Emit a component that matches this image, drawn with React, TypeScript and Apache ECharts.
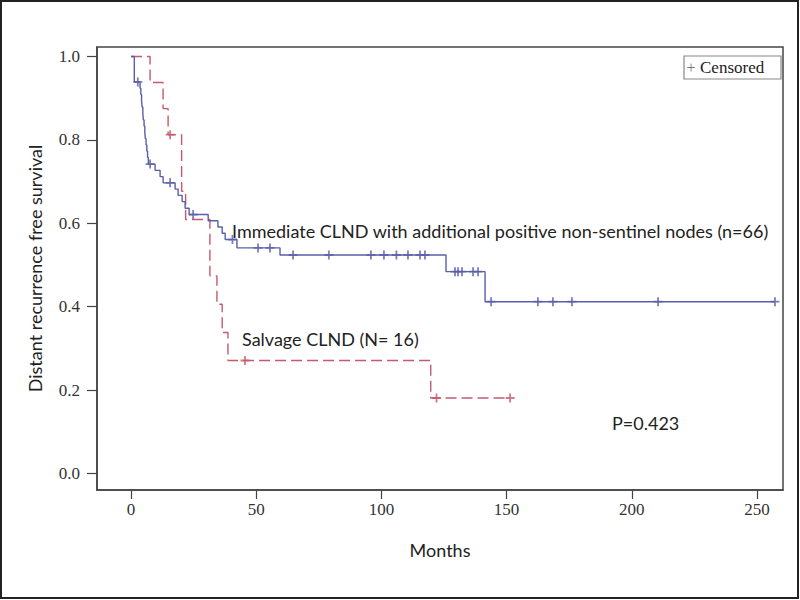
import React, { useEffect, useRef } from "react";
import * as echarts from "echarts";

// Immediate CLND (n=66): event times (months) and survival after each event
const blueTimes = [1.3, 3.6, 3.9, 4.2, 4.4, 4.7, 4.9, 5.2, 5.5, 5.7, 6.0, 6.3, 6.6, 6.9, 9.6, 11.6, 12.8, 17.6, 18.8, 20.4, 21.6, 23.2, 30.8, 34.7, 36.4, 37.6, 42.3, 59.5, 125.8, 141.4];
const blueSurv = [0.939, 0.924, 0.909, 0.894, 0.879, 0.864, 0.848, 0.833, 0.818, 0.803, 0.788, 0.773, 0.758, 0.742, 0.727, 0.712, 0.697, 0.682, 0.667, 0.652, 0.636, 0.621, 0.606, 0.591, 0.576, 0.561, 0.541, 0.524, 0.484, 0.412];
const blueCensor = [2.7, 7.6, 15.6, 24.8, 40.5, 50.7, 55.5, 64.7, 79, 95.8, 101, 106, 110.6, 115.4, 117.4, 129.4, 130.6, 132.2, 136.6, 138.6, 143.8, 162.5, 168.5, 176.1, 210.5, 257.2];

// Salvage CLND (N=16)
const redTimes = [7.6, 12.8, 14.8, 20.2, 21.8, 31.5, 34.3, 36.4, 38.7, 119.7];
const redSurv = [0.9375, 0.875, 0.8125, 0.677, 0.609, 0.474, 0.406, 0.338, 0.271, 0.181];
const redCensor = [15.6, 45.5, 122, 151.4];

const xTicks = [0, 50, 100, 150, 200, 250];
const yTicks = [0, 0.2, 0.4, 0.6, 0.8, 1.0];

const blueLabel = "Immediate CLND with additional positive non-sentinel nodes (n=66)";
const redLabel = "Salvage CLND (N= 16)";
const pLabel = "P=0.423";

function kmPoints(times: number[], surv: number[], end: number) {
  const pts: number[][] = [[0, 1]];
  times.forEach((t, i) => pts.push([t, surv[i]]));
  pts.push([end, surv[surv.length - 1]]);
  return pts;
}
function censorPoints(times: number[], surv: number[], cens: number[]) {
  return cens.map((c) => {
    let s = 1;
    times.forEach((t, i) => {
      if (t <= c) s = surv[i];
    });
    return [c, s];
  });
}

const BLUE = "#5b5ea8";
const RED = "#c45a6c";
const PLUS = "path://M4,0H6V4H10V6H6V10H4V6H0V4H4Z";

export default function App() {
  const ref = useRef<HTMLDivElement>(null);
  useEffect(() => {
    if (!ref.current) return;
    const chart = echarts.init(ref.current, null, { renderer: "svg" });
    const serif = "Liberation Serif";
    const sans = "Lato";
    chart.setOption({
      animation: false,
      backgroundColor: "#ffffff",
      grid: { left: 97, top: 47, right: 17, bottom: 110, show: true, borderColor: "#444", borderWidth: 1.5 },
      xAxis: {
        type: "value",
        min: -13.6,
        max: 260.4,
        axisLine: { show: true, onZero: false, lineStyle: { color: "#444", width: 1.5 } },
        axisTick: { show: true, length: 9, customValues: xTicks, lineStyle: { color: "#444", width: 1.2 } },
        axisLabel: { customValues: xTicks, fontFamily: serif, fontSize: 17, color: "#333", margin: 11 },
        splitLine: { show: false },
        name: "Months",
        nameLocation: "middle",
        nameGap: 51,
        nameTextStyle: { fontFamily: sans, fontSize: 18, color: "#222" },
      },
      yAxis: {
        type: "value",
        min: -0.0396,
        max: 1.0228,
        axisLine: { show: true, onZero: false, lineStyle: { color: "#444", width: 1.5 } },
        axisTick: { show: true, length: 10, customValues: yTicks, lineStyle: { color: "#444", width: 1.2 } },
        axisLabel: {
          customValues: yTicks,
          fontFamily: serif,
          fontSize: 17,
          color: "#333",
          margin: 17,
          formatter: (v: number) => v.toFixed(1),
        },
        splitLine: { show: false },
        name: "Distant recurrence free survival",
        nameLocation: "middle",
        nameGap: 53,
        nameTextStyle: { fontFamily: sans, fontSize: 18, color: "#222" },
      },
      series: [
        {
          type: "line",
          step: "end",
          showSymbol: false,
          data: kmPoints(blueTimes, blueSurv, blueCensor[blueCensor.length - 1]),
          lineStyle: { color: BLUE, width: 1.4 },
          z: 3,
        },
        {
          type: "line",
          step: "end",
          showSymbol: false,
          data: kmPoints(redTimes, redSurv, redCensor[redCensor.length - 1]),
          lineStyle: { color: RED, width: 1.4, type: [11, 5] },
          z: 2,
        },
        {
          type: "scatter",
          symbol: PLUS,
          symbolSize: 9,
          data: censorPoints(blueTimes, blueSurv, blueCensor),
          itemStyle: { color: BLUE },
          z: 4,
        },
        {
          type: "scatter",
          symbol: PLUS,
          symbolSize: 9,
          data: censorPoints(redTimes, redSurv, redCensor),
          itemStyle: { color: RED },
          z: 4,
        },
      ],
      graphic: [
        { type: "rect", shape: { x: 1, y: 1, width: 797, height: 597 }, style: { fill: "none", stroke: "#222", lineWidth: 2 } },
        { type: "rect", shape: { x: 684, y: 56, width: 97, height: 23 }, style: { fill: "#fff", stroke: "#888", lineWidth: 1.2 } },
        { type: "text", x: 691, y: 67.5, style: { text: "+", font: `16px "${serif}"`, fill: "#777", align: "center", verticalAlign: "middle" } },
        { type: "text", x: 700, y: 67.5, style: { text: "Censored", font: `17px "${serif}"`, fill: "#222", align: "left", verticalAlign: "middle" } },
        { type: "text", x: 232, y: 231, style: { text: blueLabel, font: `18px "${sans}"`, fill: "#222", align: "left", verticalAlign: "middle" } },
        { type: "text", x: 242, y: 339, style: { text: redLabel, font: `18px "${sans}"`, fill: "#222", align: "left", verticalAlign: "middle" } },
        { type: "text", x: 612, y: 423, style: { text: pLabel, font: `18px "${sans}"`, fill: "#222", align: "left", verticalAlign: "middle" } },
      ],
    });
    return () => chart.dispose();
  }, []);
  return <div ref={ref} style={{ position: "fixed", left: 0, top: 0, width: 800, height: 600 }} />;
}
